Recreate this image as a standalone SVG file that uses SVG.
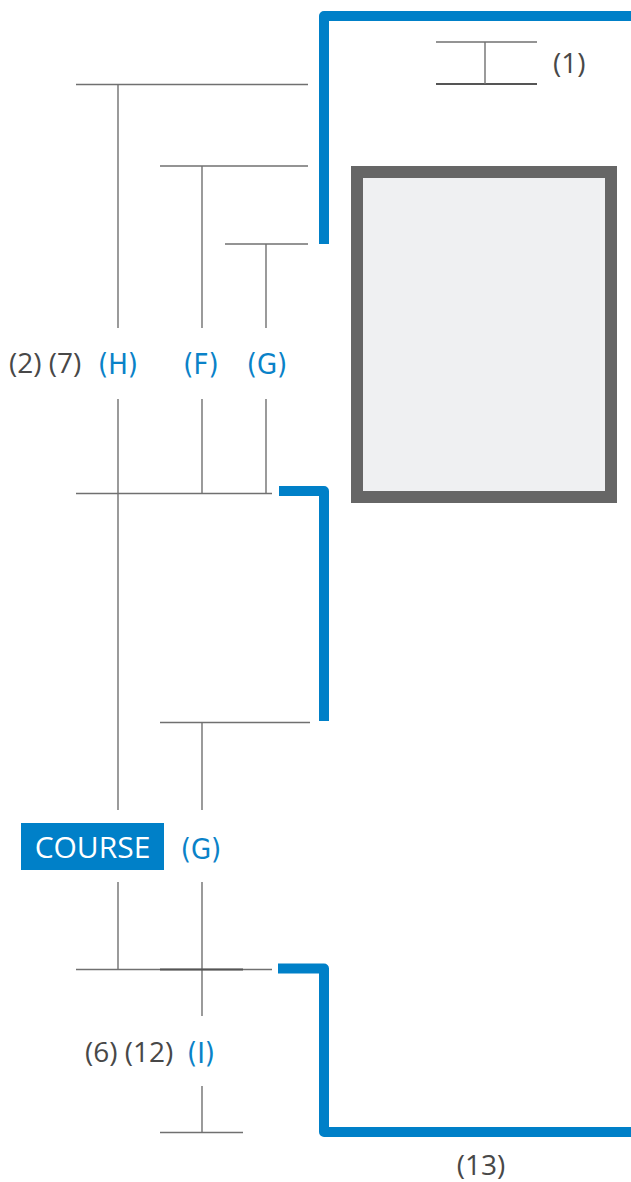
<svg xmlns="http://www.w3.org/2000/svg" width="631" height="1182" viewBox="0 0 631 1182">
<style>
.ln{stroke:#707070;stroke-width:1.4;fill:none}
.ln2{stroke:#555;stroke-width:2;fill:none}
.br{stroke:#0080C8;stroke-width:10;fill:none;stroke-linejoin:round}
.gt{font-family:"Open Sans","Liberation Sans",sans-serif;font-size:28px;fill:#484848}
.bt{font-family:"DejaVu Sans Condensed","DejaVu Sans",sans-serif;font-stretch:condensed;font-size:29px;fill:#0A82C8;text-anchor:middle}
.ct{font-family:"Open Sans","Liberation Sans",sans-serif;font-size:30px;fill:#fff;text-anchor:middle}
</style>
<rect width="631" height="1182" fill="#fff"/>
<g id="connectors">
<path class="br" d="M324 244 V16 H631"/>
<path class="br" d="M279 491 H324 V721"/>
<path class="br" d="M278 968.5 H324 V1132 H631"/>
<line class="ln" x1="436" y1="42" x2="537" y2="42"/>
<line class="ln2" x1="436" y1="84" x2="537" y2="84"/>
<line class="ln" x1="485" y1="42" x2="485" y2="84"/>
<line class="ln" x1="76" y1="84.5" x2="308" y2="84.5"/>
<line class="ln" x1="160" y1="166" x2="308" y2="166"/>
<line class="ln" x1="225" y1="244" x2="308" y2="244"/>
<line class="ln" x1="118" y1="84.5" x2="118" y2="328"/>
<line class="ln" x1="202" y1="166" x2="202" y2="328"/>
<line class="ln" x1="266" y1="244" x2="266" y2="328"/>
<line class="ln" x1="118" y1="399" x2="118" y2="810"/>
<line class="ln" x1="202" y1="399" x2="202" y2="493"/>
<line class="ln" x1="266" y1="399" x2="266" y2="493"/>
<line class="ln" x1="76" y1="493.5" x2="272" y2="493.5"/>
<line class="ln" x1="160" y1="722.5" x2="310" y2="722.5"/>
<line class="ln" x1="202" y1="722.5" x2="202" y2="810"/>
<line class="ln" x1="118" y1="882" x2="118" y2="969"/>
<line class="ln" x1="202" y1="882" x2="202" y2="1016"/>
<line class="ln" x1="76" y1="969.5" x2="272" y2="969.5"/>
<line class="ln2" x1="160" y1="969.5" x2="243" y2="969.5"/>
<line class="ln" x1="202" y1="1086" x2="202" y2="1132"/>
<line class="ln" x1="160" y1="1132.5" x2="243" y2="1132.5"/>
</g>
<g id="box">
<rect x="357" y="172" width="254" height="325" fill="#EFF0F2" stroke="#666666" stroke-width="12"/>
</g>
<g id="label-1"><text class="gt" x="553" y="73">(1)</text></g>
<g id="label-2-7"><text class="gt" x="9" y="373">(2) (7)</text></g>
<g id="label-H"><text class="bt" x="118" y="374">(H)</text></g>
<g id="label-F"><text class="bt" x="201" y="374">(F)</text></g>
<g id="label-G1"><text class="bt" x="267" y="374">(G)</text></g>
<g id="course">
<rect x="21" y="823" width="143" height="47" fill="#0080C8"/>
<text class="ct" x="92.5" y="858">COURSE</text>
</g>
<g id="label-G2"><text class="bt" x="201" y="859">(G)</text></g>
<g id="label-6-12"><text class="gt" x="85" y="1062">(6) (12)</text></g>
<g id="label-I"><text class="bt" x="201" y="1063">(I)</text></g>
<g id="label-13"><text class="gt" x="481" y="1175" text-anchor="middle">(13)</text></g>
</svg>
